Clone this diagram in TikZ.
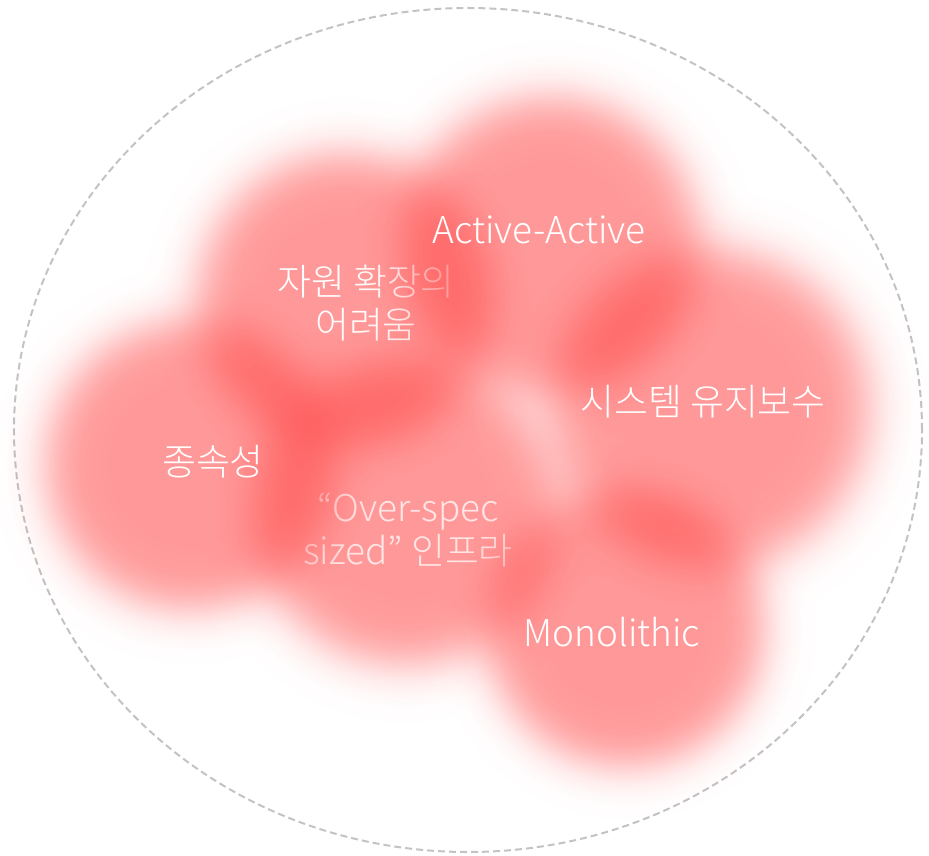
\documentclass[tikz,border=0pt]{standalone}
\usepackage{fontspec}
\IfFontExistsTF{Noto Sans CJK KR Light}
  {\setmainfont{Noto Sans CJK KR Light}}
  {\setmainfont{Noto Sans CJK KR}}
\usepackage{tikz}
\usetikzlibrary{fadings}
\definecolor{blobred}{RGB}{255,60,60}
\definecolor{ringgray}{RGB}{195,195,195}
% soft edged disc, about gaussian edge
\pgfdeclareradialshading{blurshade}{\pgfpointorigin}{color(0bp)=(pgftransparent!0); color(10bp)=(pgftransparent!0);
  color(12.5bp)=(pgftransparent!2); color(13.8bp)=(pgftransparent!7); color(15.1bp)=(pgftransparent!16);
  color(16.5bp)=(pgftransparent!31); color(17.8bp)=(pgftransparent!50); color(19.1bp)=(pgftransparent!69);
  color(20.4bp)=(pgftransparent!84); color(21.8bp)=(pgftransparent!93); color(23.1bp)=(pgftransparent!98);
  color(25bp)=(pgftransparent!100); color(50bp)=(pgftransparent!100)}
\pgfdeclarefading{blurdisc}{\pgfuseshading{blurshade}}
\tikzset{blob/.style={fill=blobred, fill opacity=0.52, path fading=blurdisc}}
\tikzset{lbl/.style={text=white, font=\fontsize{37}{44}\selectfont, align=center, inner sep=0pt}}

\begin{document}
\begin{tikzpicture}[x=1bp,y=-1bp]

  \useasboundingbox (0,0) rectangle (929,856);

  \draw[ringgray, line width=2bp, dash pattern=on 7bp off 4bp]
    (468,430) ellipse (454bp and 422bp);

  % radius of a blob = visible radius / 0.71
  \fill[blob] (345,300) circle (204bp);
  \node[lbl] (scaling) at (366,303) {자원 확장의\\어려움};
  \fill[blob] (405,512) circle (211bp);
  \node[lbl, text opacity=.75] (overspec) at (408,530) {“Over-spec\\sized” 인프라};

  \fill[blob] (550,245) circle (206bp);
  \fill[blob] (190,465) circle (200bp);
  \fill[blob] (710,408) circle (220bp);
  \fill[blob] (625,628) circle (192bp);

  \node[lbl] (active) at (539,230) {Active-Active};
  \node[lbl] (maint) at (703,402) {시스템 유지보수};
  \node[lbl] (depend) at (213,462) {종속성};
  \node[lbl] (mono) at (612,632) {Monolithic};

\end{tikzpicture}
\end{document}
